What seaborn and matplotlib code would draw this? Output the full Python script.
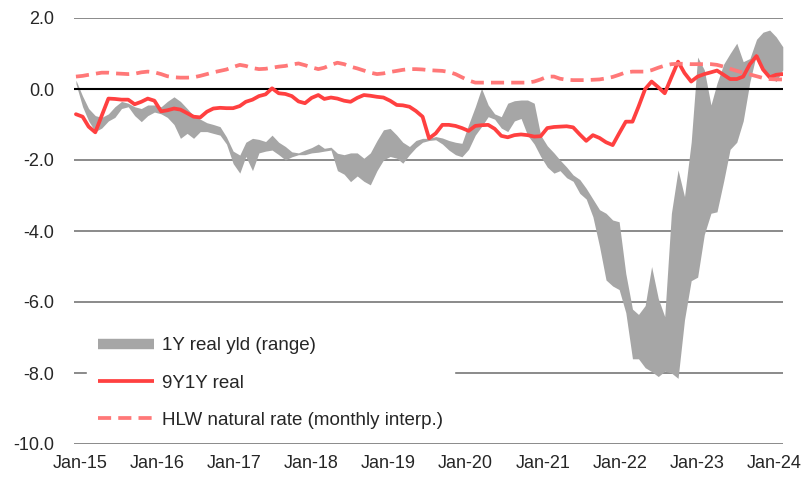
import pandas as pd
import seaborn as sns
import matplotlib.pyplot as plt
import matplotlib.transforms as mtransforms
from matplotlib.lines import Line2D

# monthly, Jan-15 .. Jan-24
months = pd.date_range("2015-01-01", "2024-01-01", freq="MS")

# 1Y real yield range (upper / lower edge of the band)
range_hi = [
    0.25, -0.20, -0.55, -0.75, -0.80, -0.70, -0.50, -0.35, -0.40, -0.50, -0.55, -0.45,
    -0.45, -0.50, -0.35, -0.22, -0.35, -0.55, -0.75, -0.85, -0.95, -1.00, -1.06, -1.35,
    -1.75, -1.86, -1.50, -1.39, -1.42, -1.48, -1.30, -1.50, -1.62, -1.77, -1.80, -1.72,
    -1.65, -1.55, -1.67, -1.64, -1.81, -1.85, -1.80, -1.80, -1.95, -1.80, -1.45, -1.15,
    -1.11, -1.30, -1.50, -1.62, -1.45, -1.39, -1.39, -1.34, -1.38, -1.45, -1.50, -1.53,
    -1.00, -0.50, 0.02, -0.45, -0.70, -0.78, -0.40, -0.33, -0.31, -0.31, -0.40, -1.30,
    -1.60, -1.80, -2.00, -2.20, -2.42, -2.55, -2.80, -3.10, -3.40, -3.50, -3.69, -3.74,
    -5.20, -6.20, -6.35, -6.10, -5.00, -5.90, -6.41, -3.50, -2.28, -3.03, -1.50, 0.90,
    0.54, -0.45, 0.16, 0.70, 1.00, 1.29, 0.77, 0.86, 1.40, 1.60, 1.66, 1.47,
    1.19,
]
range_lo = [
    0.15, -0.50, -0.90, -1.20, -1.10, -0.90, -0.80, -0.55, -0.50, -0.75, -0.92, -0.75,
    -0.65, -0.70, -0.80, -1.00, -1.39, -1.25, -1.39, -1.20, -1.20, -1.25, -1.30, -1.55,
    -2.10, -2.37, -1.90, -2.30, -1.80, -1.75, -1.72, -1.85, -2.00, -1.91, -1.85, -1.85,
    -1.80, -1.78, -1.75, -1.72, -2.30, -2.40, -2.61, -2.45, -2.60, -2.70, -2.30, -2.00,
    -1.90, -1.95, -2.09, -1.85, -1.65, -1.50, -1.45, -1.43, -1.55, -1.72, -1.85, -1.91,
    -1.70, -1.30, -1.06, -0.78, -0.85, -1.10, -1.20, -0.90, -0.83, -1.30, -1.55, -1.90,
    -2.20, -2.37, -2.30, -2.50, -2.60, -2.94, -3.10, -3.60, -4.44, -5.38, -5.55, -5.65,
    -6.30, -7.60, -7.60, -7.85, -7.96, -8.10, -7.95, -8.00, -8.15, -6.50, -5.40, -5.30,
    -4.10, -3.50, -3.46, -2.60, -1.70, -1.50, -0.90, 0.20, 1.00, 0.50, 0.35, 0.21,
    0.54,
]
real_9y1y = [
    -0.71, -0.78, -1.06, -1.22, -0.75, -0.27, -0.28, -0.30, -0.30, -0.43, -0.36, -0.27,
    -0.33, -0.63, -0.60, -0.55, -0.58, -0.68, -0.78, -0.80, -0.64, -0.55, -0.53, -0.54,
    -0.54, -0.48, -0.36, -0.30, -0.20, -0.15, 0.02, -0.12, -0.14, -0.20, -0.35, -0.40,
    -0.25, -0.17, -0.28, -0.24, -0.27, -0.33, -0.36, -0.25, -0.17, -0.19, -0.22, -0.24,
    -0.33, -0.45, -0.46, -0.50, -0.62, -0.78, -1.39, -1.25, -1.01, -1.01, -1.04, -1.10,
    -1.18, -1.04, -1.02, -1.01, -1.12, -1.32, -1.36, -1.30, -1.28, -1.30, -1.34, -1.33,
    -1.10, -1.07, -1.06, -1.05, -1.08, -1.28, -1.46, -1.30, -1.38, -1.50, -1.58, -1.25,
    -0.92, -0.92, -0.50, 0.00, 0.21, 0.05, -0.12, 0.33, 0.77, 0.45, 0.21, 0.35,
    0.42, 0.47, 0.52, 0.40, 0.28, 0.28, 0.35, 0.70, 0.93, 0.55, 0.33, 0.40,
    0.42,
]
hlw_rate = [
    0.35, 0.37, 0.40, 0.43, 0.46, 0.46, 0.44, 0.43, 0.42, 0.43, 0.47, 0.49,
    0.47, 0.42, 0.36, 0.33, 0.32, 0.32, 0.33, 0.37, 0.42, 0.47, 0.51, 0.55,
    0.62, 0.68, 0.65, 0.59, 0.56, 0.57, 0.60, 0.63, 0.65, 0.69, 0.72, 0.67,
    0.61, 0.56, 0.60, 0.68, 0.74, 0.70, 0.63, 0.58, 0.52, 0.46, 0.42, 0.44,
    0.48, 0.51, 0.54, 0.56, 0.56, 0.55, 0.53, 0.52, 0.51, 0.48, 0.42, 0.33,
    0.24, 0.18, 0.18, 0.18, 0.18, 0.18, 0.18, 0.18, 0.18, 0.18, 0.21, 0.27,
    0.35, 0.35, 0.29, 0.26, 0.25, 0.25, 0.25, 0.26, 0.27, 0.30, 0.34, 0.40,
    0.47, 0.49, 0.49, 0.49, 0.53, 0.60, 0.66, 0.70, 0.71, 0.71, 0.70, 0.70,
    0.70, 0.70, 0.68, 0.63, 0.57, 0.51, 0.46, 0.41, 0.36, 0.31, 0.28, 0.27,
    0.27,
]

y_ticks = [-10, -8, -6, -4, -2, 0, 2]
labels = ["1Y real yld (range)", "9Y1Y real", "HLW natural rate (monthly interp.)"]

GREY = "#a6a6a6"
RED = "#ff4040"
PINK = "#ff7878"
DASH = (0, (3.5, 1.9))

sns.set_style("white")
plt.rcParams["font.family"] = ["Liberation Sans", "DejaVu Sans"]

fig = plt.figure(figsize=(8.05, 4.78), dpi=100)
ax = fig.add_axes([74 / 805, 34 / 478, 709 / 805, 426 / 478])

ax.fill_between(months, range_lo, range_hi, color=GREY, lw=0, zorder=2)
ax.axhline(0, color="black", lw=1.5, zorder=2.5)
sns.lineplot(x=months, y=real_9y1y, color=RED, lw=2.7, ax=ax, zorder=3)
sns.lineplot(x=months, y=hlw_rate, color=PINK, lw=2.7, ax=ax, zorder=4,
             linestyle=DASH)

ax.set_ylim(-10, 2)
ax.set_xlim(months[0] - pd.Timedelta(days=9), months[-1] + pd.Timedelta(days=1))
ax.set_yticks(y_ticks)
ax.set_yticklabels([f"{v:.1f}" for v in y_ticks])
ax.set_xticks(months[::12])
ax.set_xticklabels([d.strftime("%b-%y") for d in months[::12]])
ax.yaxis.grid(True, color="#8a8a8a", lw=1.4)
ax.xaxis.grid(False)
ax.set_axisbelow(True)
sns.despine(ax=ax, left=True, bottom=True)
ax.tick_params(axis="both", length=0, labelsize=13, colors="#262626")
ax.tick_params(axis="y", pad=14)
ax.tick_params(axis="x", pad=8)
ax.set_xlabel("")
ax.set_ylabel("")

# the year labels sit on a slightly tighter pitch than the data in the original
for k, lab in enumerate(ax.get_xticklabels()):
    dx = (4 - 1.4 * k) / 100
    lab.set_transform(lab.get_transform() +
                      mtransforms.ScaledTranslation(dx, 0, fig.dpi_scale_trans))

handles = [
    Line2D([], [], color=GREY, lw=7.5, solid_capstyle="butt"),
    Line2D([], [], color=RED, lw=2.7, solid_capstyle="butt"),
    Line2D([], [], color=PINK, lw=2.7, linestyle=DASH, dash_capstyle="butt"),
]
leg = ax.legend(handles, labels, loc="center left", bbox_to_anchor=(0.018, 0.143),
                borderaxespad=0, borderpad=0.6, fontsize=13.5, handlelength=3.0,
                handletextpad=0.4, labelspacing=1.07, frameon=True, fancybox=False,
                facecolor="white", edgecolor="white", framealpha=1)
for t in leg.get_texts():
    t.set_color("#262626")

fig.savefig("out.png", dpi=100)
